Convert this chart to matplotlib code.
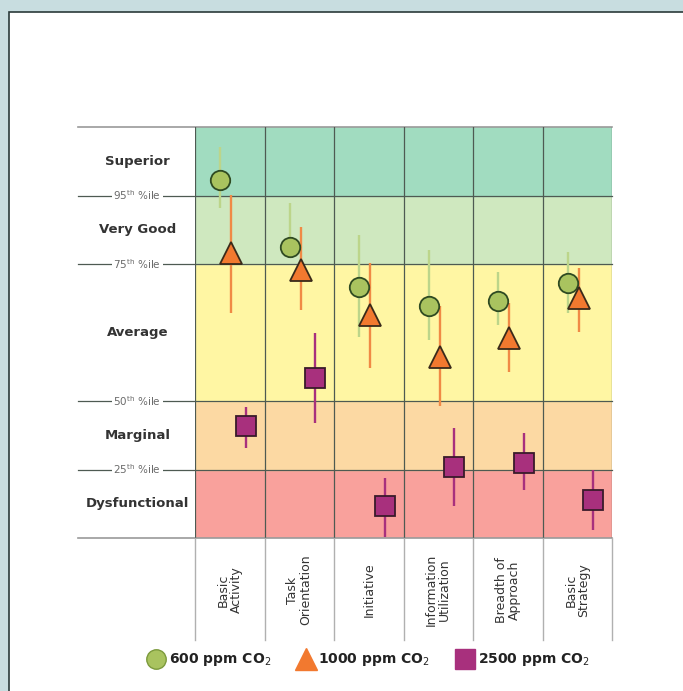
import matplotlib.pyplot as plt
from matplotlib.patches import Rectangle
from matplotlib.lines import Line2D

# categories (columns)
categories = ["Basic\nActivity", "Task\nOrientation", "Initiative",
              "Information\nUtilization", "Breadth of\nApproach", "Basic\nStrategy"]

# scale units: 0 = bottom, 1 = 25th, 2 = 50th, 4 = 75th, 5 = 95th, 6 = top
band_edges = [0, 1, 2, 4, 5, 6]
band_names = ["Dysfunctional", "Marginal", "Average", "Very Good", "Superior"]
band_colors = ["#f9a19c", "#fcd9a3", "#fff6a3", "#cfe8bf", "#a1dcc0"]
pct_levels = [1, 2, 4, 5]
pct_labels = ["25$^{\\rm th}$ %ile", "50$^{\\rm th}$ %ile",
              "75$^{\\rm th}$ %ile", "95$^{\\rm th}$ %ile"]

# series: value, lower end, upper end of the bars
co2_600 = [5.23, 4.25, 3.67, 3.39, 3.46, 3.72]
co2_600_lo = [4.82, 4.09, 2.94, 2.89, 3.11, 3.28]
co2_600_hi = [5.71, 4.89, 4.42, 4.20, 3.89, 4.18]

co2_1000 = [4.16, 3.91, 3.26, 2.64, 2.92, 3.50]
co2_1000_lo = [3.28, 3.33, 2.48, 1.92, 2.43, 3.01]
co2_1000_hi = [5.01, 4.54, 4.01, 3.38, 3.43, 3.94]

co2_2500 = [1.64, 2.33, 0.47, 1.04, 1.10, 0.55]
co2_2500_lo = [1.31, 1.68, 0.02, 0.46, 0.70, 0.12]
co2_2500_hi = [1.91, 2.99, 0.87, 1.60, 1.53, 0.99]

W, H = 683, 691
fig = plt.figure(figsize=(W / 100, H / 100), dpi=100)
fig.patch.set_facecolor("#c8dde0")
fig.patches.append(Rectangle((9 / W, -0.1), 1.2, 1 - 12 / H + 0.1,
                             transform=fig.transFigure, facecolor="white",
                             edgecolor="#2a3a3a", linewidth=1.2, zorder=-1))

ax = fig.add_axes([195 / W, 1 - 538 / H, (612 - 195) / W, (538 - 127) / H])
ax.set_zorder(1)
ax.set_xlim(0, 6)
ax.set_ylim(0, 6)
ax.axis("off")

grid_c = "#4e5a52"
left_x = -1.68
for i in range(len(band_names)):
    ax.axhspan(band_edges[i], band_edges[i + 1], color=band_colors[i], zorder=0)
    ymid = (band_edges[i] + band_edges[i + 1]) / 2
    ax.text(-0.83, ymid, band_names[i], ha="center", va="center",
            fontsize=9.5, fontweight="bold", color="#333333")

for lvl, lab in zip(pct_levels, pct_labels):
    ax.plot([left_x, 6], [lvl, lvl], color=grid_c, lw=0.9, clip_on=False, zorder=1)
    ax.text(-0.83, lvl, lab, ha="center", va="center", fontsize=7.5,
            color="#6a6a6a", bbox=dict(facecolor="white", edgecolor="none", pad=1))

ax.plot([left_x, 6], [6, 6], color="#9a9a9a", lw=1.2, clip_on=False, zorder=1)
ax.plot([left_x, 6], [0, 0], color="#9a9a9a", lw=1.2, clip_on=False, zorder=1)

cell_bottom = -1.49
for c in range(7):
    ax.plot([c, c], [6, 0], color=grid_c, lw=0.9, zorder=1)
    ax.plot([c, c], [0, cell_bottom], color="#b0b0b0", lw=1.0, clip_on=False, zorder=1)

for i, lab in enumerate(categories):
    ax.text(i + 0.5, -0.76, lab, rotation=90, ha="center", va="center",
            fontsize=9, color="#333333", linespacing=1.0, clip_on=False)

series = [
    (co2_600, co2_600_lo, co2_600_hi, -0.14, "o", 14, "#a9c35f", "#2f4a22", "#bcd58a", "600 ppm CO$_2$"),
    (co2_1000, co2_1000_lo, co2_1000_hi, 0.02, "^", 16, "#f2792f", "#3a2a1a", "#f08a45", "1000 ppm CO$_2$"),
    (co2_2500, co2_2500_lo, co2_2500_hi, 0.23, "s", 14, "#a8307d", "#3a1a2a", "#a8307d", "2500 ppm CO$_2$"),
]
handles = []
for vals, lo, hi, off, mk, ms, fc, ec, bar_c, label in series:
    xs = [i + 0.5 + off for i in range(len(vals))]
    err = [[v - l for v, l in zip(vals, lo)], [h - v for v, h in zip(vals, hi)]]
    ax.errorbar(xs, vals, yerr=err, fmt="none", ecolor=bar_c, elinewidth=1.7,
                capsize=0, zorder=3)
    ax.plot(xs, vals, linestyle="none", marker=mk, markersize=ms,
            markerfacecolor=fc, markeredgecolor=ec, markeredgewidth=1.3, zorder=4)
    handles.append(Line2D([], [], linestyle="none", marker=mk, markersize=ms,
                          markerfacecolor=fc, markeredgecolor=fc if mk != "o" else "#7c9a3c",
                          label=label))

fig.legend(handles=handles, loc="center", bbox_to_anchor=(0.54, 1 - 660 / H),
           ncol=3, frameon=False, handletextpad=0.3, columnspacing=1.9,
           handlelength=1.2, prop=dict(size=10, weight="bold"), labelcolor="#222222")

fig.savefig("out.png", dpi=100, facecolor=fig.get_facecolor())
